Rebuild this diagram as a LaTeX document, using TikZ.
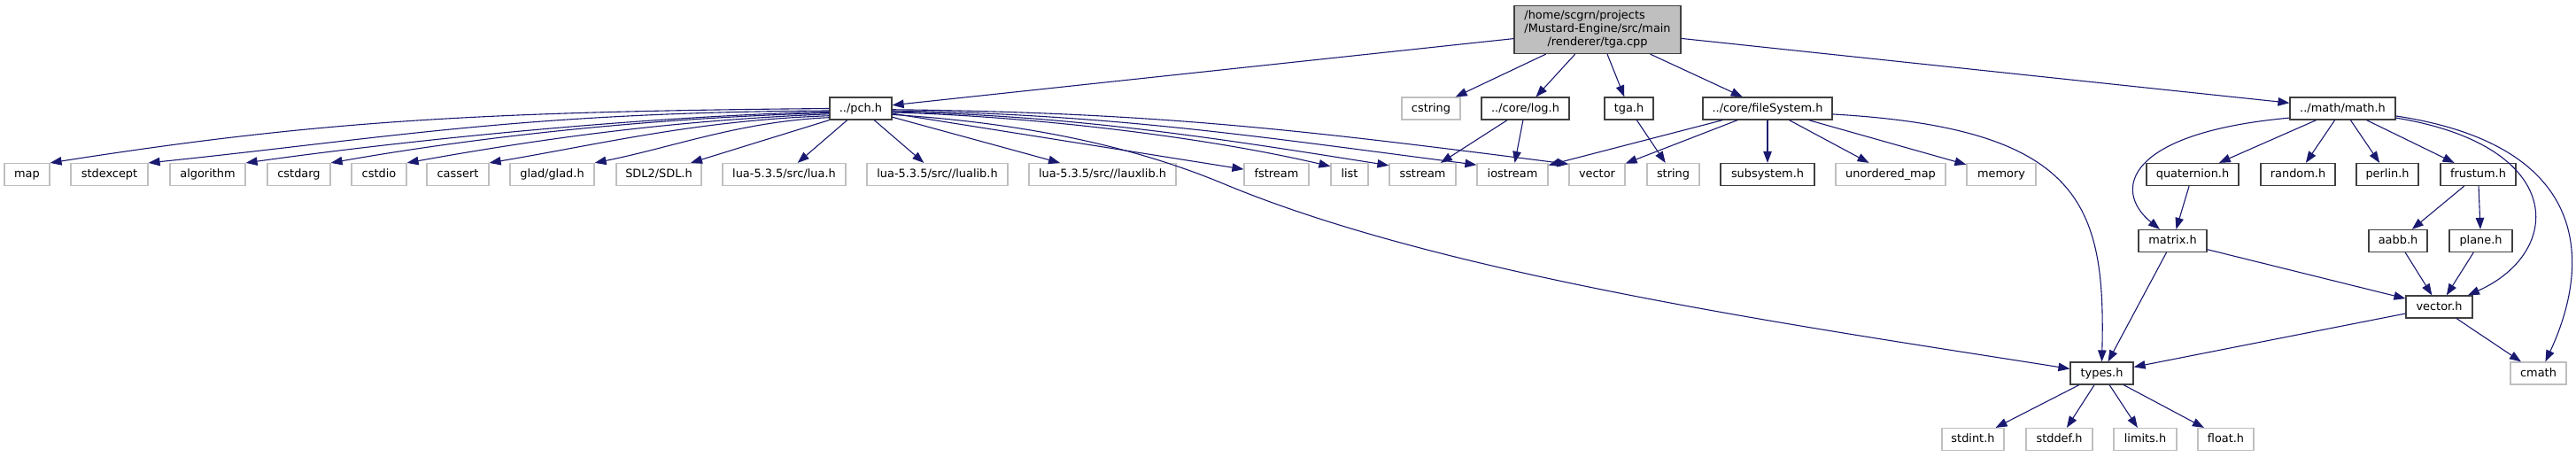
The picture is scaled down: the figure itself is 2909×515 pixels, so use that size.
\documentclass[tikz,border=0pt]{standalone}
\usepackage{fontspec}
\usepackage{xcolor}
\usepackage{tikz}
\usetikzlibrary{arrows.meta}
\setmainfont{DejaVu Sans}

\definecolor{edgeblue}{HTML}{191970}
\definecolor{grey25}{HTML}{404040}
\definecolor{grey75}{HTML}{BFBFBF}

\begin{document}
\begin{tikzpicture}[
    x=1pt, y=-1pt,
    every node/.style={font=\fontsize{12.9}{15}\selectfont},
    box/.style={rectangle, inner sep=0pt, minimum height=25pt, line width=1.2pt, fill=white},
    header/.style={box, draw=grey25, minimum width=#1, text height=10.2pt, text depth=2.6pt},
    system/.style={box, draw=grey75, minimum width=#1, text height=10.2pt, text depth=2.6pt},
    current/.style={box, draw=grey25, fill=grey75, minimum width=#1, minimum height=54pt},
    arrow/.style={draw=edgeblue, line width=1.1pt, -{Triangle[length=13pt, width=9.5pt]}}
]
\useasboundingbox (0,0) rectangle (2909,515);

% the file itself
\node (tgacpp) [current=188pt] at (1804,33.5) {\begin{tabular}{@{}l@{}}/home/scgrn/projects\\/Mustard-Engine/src/main\\\multicolumn{1}{@{}c@{}}{/renderer/tga.cpp}\end{tabular}};

% direct includes
\node (pch) [header=70pt] at (972,122.5) {../pch.h};
\node (cstring) [system=66pt] at (1616,122.5) {cstring};
\node (log) [header=99pt] at (1722.5,122.5) {../core/log.h};
\node (tgah) [header=55pt] at (1839.5,122.5) {tga.h};
\node (filesys) [header=146pt] at (1996,122.5) {../core/fileSystem.h};
\node (math) [header=119pt] at (2645.5,122.5) {../math/math.h};

% second level
\node (map) [system=51pt] at (30.5,197) {map};
\node (stdexcept) [system=87pt] at (123.5,197) {stdexcept};
\node (algorithm) [system=85pt] at (234.5,197) {algorithm};
\node (cstdarg) [system=71pt] at (337.5,197) {cstdarg};
\node (cstdio) [system=62pt] at (428,197) {cstdio};
\node (cassert) [system=70pt] at (517,197) {cassert};
\node (glad) [system=95pt] at (623.5,197) {glad/glad.h};
\node (sdl) [system=96pt] at (744,197) {SDL2/SDL.h};
\node (lua) [system=139pt] at (885.5,197) {lua-5.3.5/src/lua.h};
\node (lualib) [system=159pt] at (1058.5,197) {lua-5.3.5/src//lualib.h};
\node (lauxlib) [system=166pt] at (1245,197) {lua-5.3.5/src//lauxlib.h};
\node (fstream) [system=73pt] at (1441.5,197) {fstream};
\node (list) [system=42pt] at (1524,197) {list};
\node (sstream) [system=75pt] at (1606.5,197) {sstream};
\node (iostream) [system=80pt] at (1708,197) {iostream};
\node (vector) [system=63pt] at (1803.5,197) {vector};
\node (string) [system=59pt] at (1889.5,197) {string};
\node (subsystem) [header=106pt] at (1996,197) {subsystem.h};
\node (umap) [system=124pt] at (2135,197) {unordered\_map};
\node (memory) [system=78pt] at (2260,197) {memory};
\node (quaternion) [header=104pt] at (2476,197) {quaternion.h};
\node (random) [header=84pt] at (2595,197) {random.h};
\node (perlin) [header=70pt] at (2696,197) {perlin.h};
\node (frustum) [header=85pt] at (2798.5,197) {frustum.h};

% math internals
\node (matrix) [header=77pt] at (2453.5,272) {matrix.h};
\node (aabb) [header=66pt] at (2708,272) {aabb.h};
\node (plane) [header=71pt] at (2801.5,272) {plane.h};
\node (vech) [header=75pt] at (2754.5,346.5) {vector.h};
\node (types) [header=71pt] at (2373.5,421.5) {types.h};
\node (cmath) [system=63pt] at (2866.5,421.5) {cmath};
\node (stdint) [system=70pt] at (2228,496) {stdint.h};
\node (stddef) [system=75pt] at (2325.5,496) {stddef.h};
\node (limits) [system=71pt] at (2422.5,496) {limits.h};
\node (float) [system=63pt] at (2513.5,496) {float.h};

\draw [arrow] (tgacpp) -- (pch);
\draw [arrow] (tgacpp) -- (cstring);
\draw [arrow] (tgacpp) -- (log);
\draw [arrow] (tgacpp) -- (tgah);
\draw [arrow] (tgacpp) -- (filesys);
\draw [arrow] (tgacpp) -- (math);

\draw [arrow] (pch.180) .. controls (537,126) and (356,137) .. (map.north east);
\draw [arrow] (pch.184) .. controls (587,127) and (437,156) .. (stdexcept.north east);
\draw [arrow] (pch.186) .. controls (737,131) and (477,156) .. (algorithm.north east);
\draw [arrow] (pch.188) .. controls (737,133) and (543,154) .. (cstdarg.north east);
\draw [arrow] (pch.190) .. controls (757,136) and (609,157) .. (cstdio.north east);
\draw [arrow] (pch.193) .. controls (787,136) and (682,162) .. (cassert.north east);
\draw [arrow] (pch.196) .. controls (837,137) and (761,166) .. (glad.north east);
\draw [arrow] (pch.south west) -- (sdl.20);
\draw [arrow] (pch) -- (lua);
\draw [arrow] (pch) -- (lualib);
\draw [arrow] (pch) -- (lauxlib);
\draw [arrow] (pch) -- (fstream);
\draw [arrow] (pch.-7) .. controls (1157,131) and (1353,153) .. (list.157);
\draw [arrow] (pch.-6) .. controls (1207,130) and (1369,155) .. (sstream.165);
\draw [arrow] (pch.-4) .. controls (1257,129) and (1418,154) .. (iostream.165);
\draw [arrow] (pch.-2) .. controls (1307,127) and (1472,147) .. (vector.160);
\draw [arrow] (pch.-11) .. controls (1207,142) and (1323,183) .. (1383,208)
    .. controls (1633,312) and (2038,369) .. (types.172);

\draw [arrow] (log) -- (sstream);
\draw [arrow] (log) -- (iostream);
\draw [arrow] (tgah) -- (string);

\draw [arrow] (filesys) -- (iostream);
\draw [arrow] (filesys) -- (vector);
\draw [arrow] (filesys) -- (subsystem);
\draw [arrow] (filesys) -- (umap);
\draw [arrow] (filesys) -- (memory);
\draw [arrow] (filesys.-5) .. controls (2350,145) and (2378,230) .. (types.north);

\draw [arrow] (math.190) .. controls (2400,150) and (2385,215) .. (matrix.138);
\draw [arrow] (math) -- (quaternion);
\draw [arrow] (math) -- (random);
\draw [arrow] (math) -- (perlin);
\draw [arrow] (math) -- (frustum);
\draw [arrow] (math.-10) .. controls (2900,165) and (2895,285) .. (vech.22);
\draw [arrow] (math.-8) .. controls (2930,165) and (2925,300) .. (cmath.59);

\draw [arrow] (quaternion) -- (matrix);
\draw [arrow] (frustum) -- (aabb);
\draw [arrow] (frustum) -- (plane);
\draw [arrow] (matrix) -- (types);
\draw [arrow] (matrix) -- (vech);
\draw [arrow] (aabb) -- (vech);
\draw [arrow] (plane) -- (vech);
\draw [arrow] (vech) -- (types);
\draw [arrow] (vech) -- (cmath);

\draw [arrow] (types) -- (stdint);
\draw [arrow] (types) -- (stddef);
\draw [arrow] (types) -- (limits);
\draw [arrow] (types) -- (float);

\end{tikzpicture}
\end{document}
